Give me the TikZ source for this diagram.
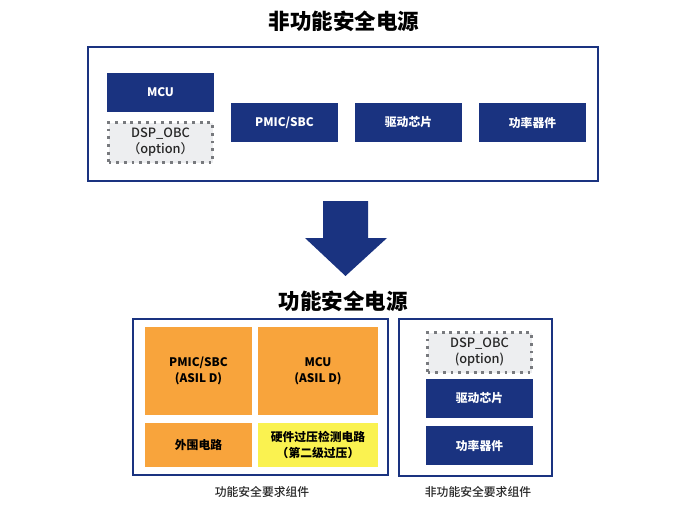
\documentclass[tikz,border=0pt]{standalone}
\usepackage{fontspec}
\setmainfont{Noto Sans CJK SC}
\newfontfamily\medfont{Noto Sans CJK SC Medium}
\definecolor{darkblue}{RGB}{26,51,128}
\definecolor{safeorange}{RGB}{248,164,60}
\definecolor{safeyellow}{RGB}{250,242,80}
\definecolor{optgray}{RGB}{237,238,240}
\definecolor{dotgray}{RGB}{120,122,126}
\begin{document}
\begin{tikzpicture}[x=1pt,y=-1pt,
	every node/.style={inner sep=1pt,align=center,font=\bfseries\fontsize{11.8}{16.5}\selectfont},
	blockbox/.style={fill=darkblue,text=white,minimum width=107pt,minimum height=39pt},
	optbox/.style={fill=optgray,draw=dotgray,line width=2.8pt,dash pattern=on 2.8pt off 4.9pt,
		text=black!85,minimum width=104pt,minimum height=40pt,font=\medfont\fontsize{12.8}{16}\selectfont},
	safebox/.style={fill=safeorange,text=black,minimum width=107pt},
	frame/.style={draw=darkblue,line width=1.6pt},
	titletext/.style={font=\bfseries\fontsize{21.5}{24}\selectfont},
	caption/.style={text=black!85,font=\medfont\fontsize{11.8}{14}\selectfont}]
\useasboundingbox (0,0) rectangle (685,514);
% non-safety supply
\node[titletext] (top title) at (344,21) {非功能安全电源};
\draw[frame] (88,47) rectangle (598,181);
\node[blockbox] (top mcu) at (160.5,92.5) {MCU};
\node[optbox] (top dsp) at (160.5,142.5) {DSP\_OBC\\（option）};
\node[blockbox] (top pmic) at (284.5,122.5) {PMIC/SBC};
\node[blockbox] (top driver) at (408.5,122.5) {驱动芯片};
\node[blockbox] (top power) at (532.5,122.5) {功率器件};
% arrow
\fill[darkblue] (323,201) -- (368,201) -- (368,238) -- (387,238) -- (345.5,276)
	-- (305,238) -- (323,238) -- cycle;
% safety supply
\node[titletext] (bottom title) at (343,301) {功能安全电源};
\draw[frame] (133,319) rectangle (388,475);
\node[safebox,minimum height=88pt] (safe pmic) at (198.5,371) {PMIC/SBC\\(ASIL D)};
\node[safebox,minimum height=88pt,minimum width=120pt] (safe mcu) at (318,371) {MCU\\(ASIL D)};
\node[safebox,minimum height=44pt] (safe periph) at (198.5,445) {外围电路};
\node[safebox,fill=safeyellow,minimum height=44pt,minimum width=120pt] (safe ovp) at (318,445)
	{硬件过压检测电路\\（第二级过压）};
\draw[frame] (399,319) rectangle (552,476);
\node[optbox] (right dsp) at (479.5,352.5) {DSP\_OBC\\(option)};
\node[blockbox] (right driver) at (479.5,398.5) {驱动芯片};
\node[blockbox] (right power) at (479.5,445.5) {功率器件};
\node[caption] (safe label) at (262,492) {功能安全要求组件};
\node[caption] (nonsafe label) at (478,492) {非功能安全要求组件};
\end{tikzpicture}
\end{document}
